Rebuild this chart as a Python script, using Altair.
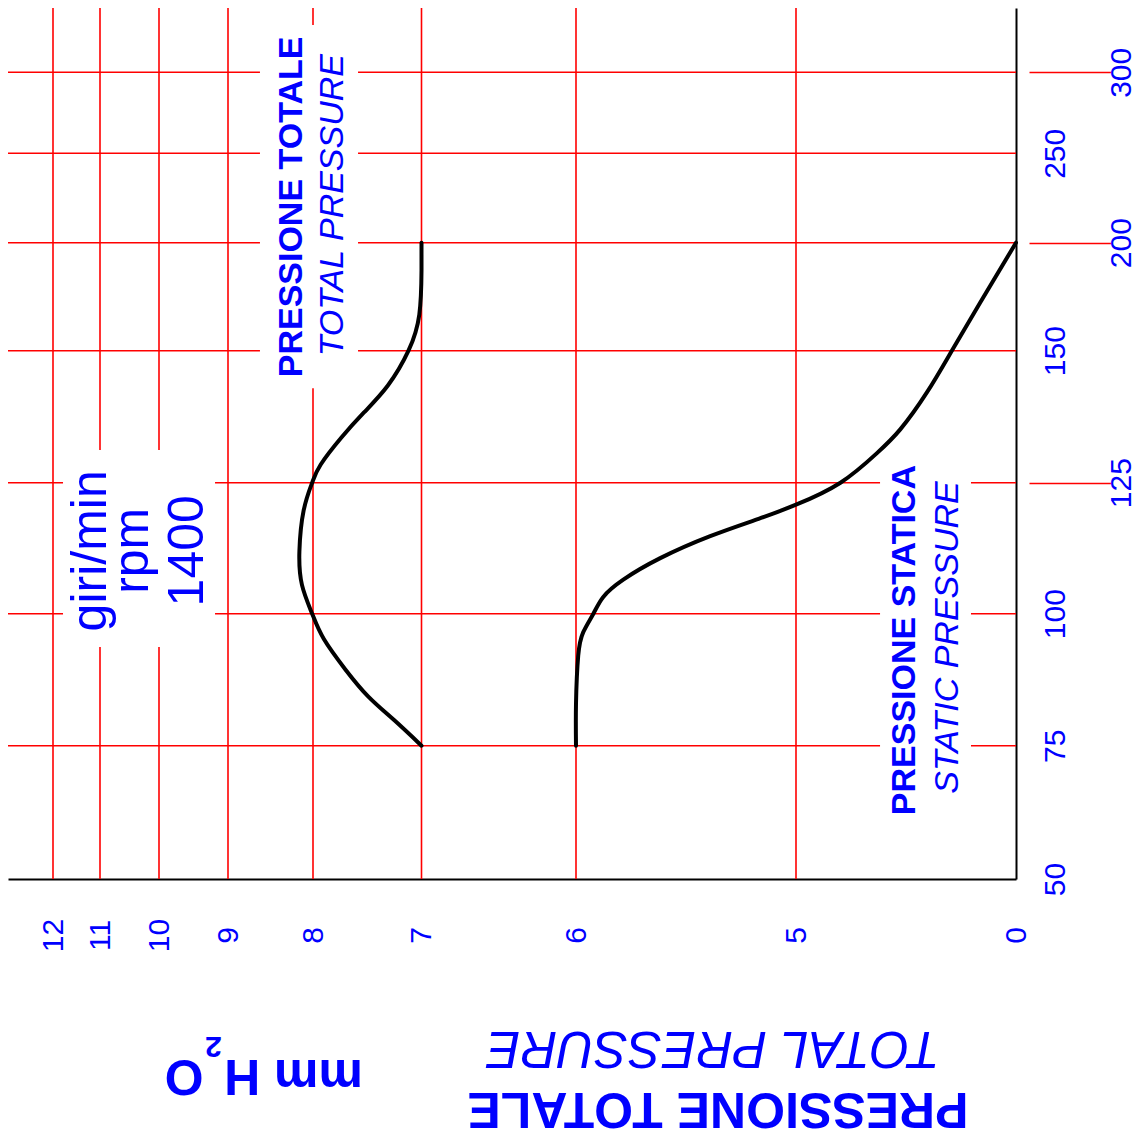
import altair as alt
import pandas as pd

# ---------------- data ----------------
pressure_ticks = [0, 5, 6, 7, 8, 9, 10, 11, 12]          # mm H2O
flow_ticks = [50, 75, 100, 125, 150, 200, 250, 300]      # flow axis
flow_far = [125, 200, 300]                               # labels set further out
pressure_grid = [5, 6, 7, 8, 9, 10, 11, 12]
flow_grid = [75, 100, 125, 150, 200, 250, 300]

total_flow = [75, 79.8, 84.3, 89.4, 95.2, 100, 105.5, 111.9, 119.7, 125,
              128.4, 133.5, 138.3, 143.4, 150, 166.8, 187.1, 200]
total_pressure = [7.0, 7.25, 7.49, 7.70, 7.90, 8.01, 8.13, 8.16, 8.11, 8.01,
                  7.93, 7.74, 7.53, 7.31, 7.12, 7.02, 7.0, 7.0]

static_flow = [75, 83.0, 92.0, 96.5, 100, 103.2, 106.5, 110.6, 114.8, 118.1,
               120.8, 125, 130.6, 135.1, 142.1, 150, 172.2, 200]
static_pressure = [6.0, 6.0, 5.99, 5.967, 5.921, 5.876, 5.785, 5.617, 5.39, 5.17,
                   5.0, 3.99, 3.16, 2.63, 2.025, 1.458, 0.816, 0.0]

# white boxes behind the annotations (data units)
box_p1 = [8.624, 11.787, 3.09]
box_p2 = [7.585, 9.188, 1.023]
box_f1 = [329.2, 131.2, 130.6]
box_f2 = [142.9, 93.7, 59.75]

# annotation texts (data units)
ann_text = ["PRESSIONE TOTALE", "TOTAL PRESSURE", "PRESSIONE STATICA", "STATIC PRESSURE",
            "giri/min", "rpm", "1400",
            "PRESSIONE TOTALE", "TOTAL PRESSURE", "mm H", "2", "O"]
ann_p = [8.129, 7.724, 2.295, 1.318, 10.898, 10.186, 9.362, 5.355, 5.377, 8.229, 9.21, 9.638]
ann_f = [220.0, 221.0, 95.0, 95.5, 112.0, 112.0, 112.0, 9.87, 21.36, 16.05, 20.37, 16.05]

# ---------------- styles / layout ----------------
ann_angle = [270, 270, 270, 270, 270, 270, 270, 180, 180, 180, 180, 180]
ann_size = [34, 34, 34, 34, 50, 50, 50, 50, 51, 50, 30, 50]
ann_weight = ["bold", "normal", "bold", "normal", "normal", "normal", "normal",
              "bold", "normal", "bold", "bold", "bold"]
ann_style = ["normal", "italic", "normal", "italic", "normal", "normal", "normal",
             "normal", "italic", "normal", "normal", "normal"]

W, H = 1008, 871
# scale breakpoints: the last entry of each domain is the plot edge
x_domain = pressure_ticks + [12.957]
x_range = [1008, 788, 568, 413.5, 305, 220, 151, 92, 45, 0]
y_domain = flow_ticks + [339.7]
y_range = [871, 737.7, 605.7, 474.7, 342.7, 234.7, 145.3, 64.3, 0]

FONT = "Liberation Sans"
BLUE = "#0000ff"
RED = "#ff0000"

xscale = alt.Scale(domain=x_domain, range=x_range, nice=False, zero=False)
yscale = alt.Scale(domain=y_domain, range=y_range, nice=False, zero=False)

far_test = "indexof([" + ",".join(str(v) for v in flow_far) + "], datum.value) >= 0"

x_axis = alt.Axis(
    values=pressure_ticks, format="d", title=None, grid=False,
    domain=True, domainColor="black", domainWidth=2,
    ticks=False, tickSize=0,
    labelAngle=270, labelAlign="center", labelBaseline="middle", labelPadding=56,
    labelFont=FONT, labelFontSize=30, labelColor=BLUE,
    labelFlush=False, labelOverlap=False,
)
y_axis = alt.Axis(
    orient="right", values=flow_ticks, format="d", title=None, grid=False,
    domain=True, domainColor="black", domainWidth=2,
    ticks=True, tickSize=95, tickColor=RED, tickWidth=1.6, tickDash=[0, 13, 82, 400],
    tickOpacity={"condition": {"test": far_test, "value": 1}, "value": 0},
    labelAngle=270, labelAlign="center", labelBaseline="middle",
    labelPadding={"condition": {"test": far_test, "value": 10}, "value": -56},
    labelFont=FONT, labelFontSize=30, labelColor=BLUE,
    labelFlush=False, labelOverlap=False,
)

def X(field):
    return alt.X(field, type="quantitative", scale=xscale, axis=x_axis)

def Y(field):
    return alt.Y(field, type="quantitative", scale=yscale, axis=y_axis)

# ---------------- layers ----------------
vgrid = alt.Chart(pd.DataFrame({"p": pressure_grid})).mark_rule(
    color=RED, strokeWidth=1.6).encode(x=X("p"))
hgrid = alt.Chart(pd.DataFrame({"f": flow_grid})).mark_rule(
    color=RED, strokeWidth=1.6).encode(y=Y("f"))

curves = pd.DataFrame({
    "series": ["totale"] * len(total_flow) + ["statica"] * len(static_flow),
    "idx": list(range(len(total_flow))) + list(range(len(static_flow))),
    "flow": total_flow + static_flow,
    "pressure": total_pressure + static_pressure,
})

boxes = pd.DataFrame({"p1": box_p1, "p2": box_p2, "f1": box_f1, "f2": box_f2})

box_layer = alt.Chart(boxes).mark_rect(fill="white", strokeWidth=0).encode(
    x=X("p1"), x2="p2", y=Y("f1"), y2="f2",
)

line_layer = alt.Chart(curves).mark_line(
    color="black", strokeWidth=4, interpolate="natural",
    strokeCap="round", strokeJoin="round",
).encode(
    x=X("pressure"), y=Y("flow"),
    detail="series:N",
    order=alt.Order("idx:Q"),
)

ann = pd.DataFrame({"text": ann_text, "p": ann_p, "f": ann_f})
text_layers = []
for i in range(len(ann_text)):
    text_layers.append(
        alt.Chart(ann.iloc[[i]]).mark_text(
            angle=ann_angle[i], font=FONT, fontSize=ann_size[i],
            fontWeight=ann_weight[i], fontStyle=ann_style[i],
            color=BLUE, align="center", baseline="alphabetic",
        ).encode(x=X("p"), y=Y("f"), text="text:N")
    )

chart = alt.layer(vgrid, hgrid, box_layer, line_layer, *text_layers).properties(
    width=W, height=H,
    autosize=alt.AutoSizeParams(type="none"),
    padding={"left": 0, "top": 0, "right": 120, "bottom": 262},
    background="white",
).configure_view(stroke=None)

chart.save("out.html", embed_options={"renderer": "svg", "actions": False})
